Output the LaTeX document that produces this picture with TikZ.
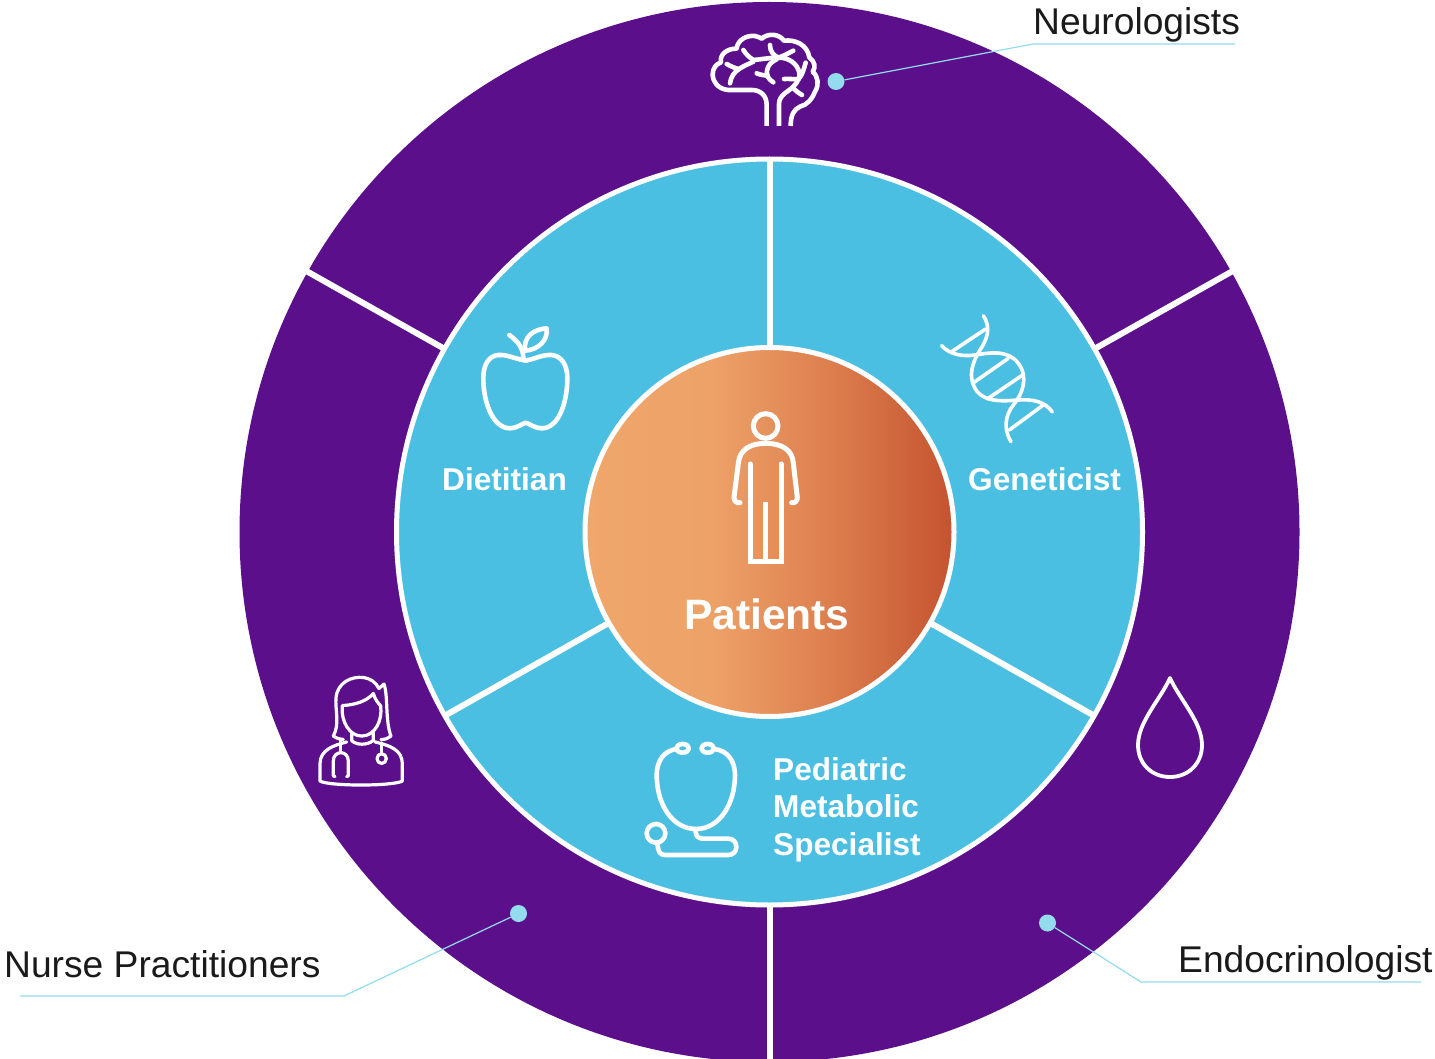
\documentclass[tikz,border=0pt]{standalone}
\usepackage{fontspec}
\usetikzlibrary{calc}
\setmainfont{Liberation Sans}
\definecolor{ringpurple}{HTML}{5B0F8B}
\definecolor{midblue}{HTML}{4BBFE2}
\definecolor{leader}{HTML}{93DCEE}
\definecolor{inktext}{HTML}{1A1A1A}
\definecolor{orA}{HTML}{F0A76B}
\definecolor{orB}{HTML}{EDA268}
\definecolor{orC}{HTML}{DD7F4F}
\definecolor{orD}{HTML}{C4532F}
\pgfdeclarehorizontalshading{patientshade}{100bp}{color(0bp)=(orA); color(25bp)=(orA); color(42bp)=(orB); color(58bp)=(orC); color(75bp)=(orD); color(100bp)=(orD)}
\tikzset{
  spoke/.style={white,line width=6pt},
  icon/.style={white,line width=4.6pt,line cap=round,line join=round},
  thinicon/.style={white,line width=3.2pt,line cap=round,line join=round},
  zoomed/.style={shift={#1},scale=0.3333},
  blacklabel/.style={anchor=base west,inner sep=0pt,text=inktext,font=\fontsize{37.2}{40}\selectfont},
  whitelabel/.style={anchor=base west,inner sep=0pt,text=white,font=\fontsize{31.6}{37}\selectfont\bfseries},
  dotnode/.style={circle,fill=leader,inner sep=0pt,minimum size=17pt},
  leaderline/.style={leader,line width=1.2pt}
}
\begin{document}
\begin{tikzpicture}[x=1pt,y=-1pt]
\useasboundingbox (0,0) rectangle (1435,1059);
\clip (0,0) rectangle (1435,1059);
\fill[white] (0,0) rectangle (1435,1059);
\coordinate (c) at (769.5,532);
% rings
\fill[ringpurple] (c) circle[radius=530];
\foreach \a in {29.4,150.6,270}{
  \draw[spoke] ($(c)+({372*cos(\a)},{-372*sin(\a)})$) -- ($(c)+({540*cos(\a)},{-540*sin(\a)})$);
}
\fill[midblue] (c) circle[radius=373];
\foreach \a in {90,209.5,330.5}{
  \draw[spoke] ($(c)+({186*cos(\a)},{-186*sin(\a)})$) -- ($(c)+({373*cos(\a)},{-373*sin(\a)})$);
}
\draw[white,line width=5pt] (c) circle[radius=373];
\shade[shading=patientshade] (c) circle[radius=184.5];
\draw[white,line width=5pt] (c) circle[radius=184.5];
% labels
\node[blacklabel] (neuro) at (1033,34.5) {Neurologists};
\node[blacklabel] (nurse) at (4,977) {Nurse Practitioners};
\node[blacklabel] (endo) at (1178,972) {Endocrinologist};
\node[whitelabel] (diet) at (442,490) {Dietitian};
\node[whitelabel] (gene) at (968,490) {Geneticist};
\node[whitelabel,font=\fontsize{42.5}{46}\selectfont\bfseries] (pat) at (684,629) {Patients};
\node[whitelabel] (ped1) at (773,780) {Pediatric};
\node[whitelabel] (ped2) at (773,817) {Metabolic};
\node[whitelabel] (ped3) at (773,855) {Specialist};
% leaders
\node[dotnode] (dn) at (836,81.5) {};
\node[dotnode] (dp) at (518.5,913.5) {};
\node[dotnode] (de) at (1047.5,923) {};
\coordinate (en) at (1033,44); \coordinate (fn) at (1235,44);
\coordinate (ep) at (344,996); \coordinate (fp) at (20,996);
\coordinate (ee) at (1141,982); \coordinate (fe) at (1421,982);
\draw[leaderline] (dn) -- (en) -- (fn);
\draw[leaderline] (dp) -- (ep) -- (fp);
\draw[leaderline] (de) -- (ee) -- (fe);
% brain
\begin{scope}[zoomed={(690,20)}]
\draw[icon,line cap=butt] (230,318) -- (230,255) .. controls (230,225) and (210,210) .. (185,210) -- (115,210)
  .. controls (85,208) and (68,185) .. (68,163) .. controls (68,145) and (78,132) .. (93,127)
  .. controls (88,105) and (110,85) .. (140,86) .. controls (142,60) and (170,45) .. (195,48) .. controls (205,50) and (210,53) .. (215,56)
  .. controls (235,38) and (268,42) .. (282,62) .. controls (318,58) and (352,75) .. (358,112)
  .. controls (375,125) and (378,142) .. (368,155) .. controls (385,170) and (388,195) .. (375,215)
  .. controls (365,240) and (350,255) .. (330,260) .. controls (312,268) and (302,285) .. (302,318);
\draw[icon,line cap=butt] (267,318) -- (267,252) .. controls (267,225) and (295,215) .. (310,200) .. controls (325,185) and (330,170) .. (328,158) .. controls (322,130) and (295,112) .. (265,113) .. controls (240,113) and (215,118) .. (190,120);
\draw[icon] (190,120) .. controls (178,112) and (168,103) .. (160,90);
\draw[icon] (110,132) .. controls (125,140) and (135,145) .. (147,147);
\draw[icon] (190,125) .. controls (160,140) and (125,150) .. (120,190);
\draw[icon] (240,75) .. controls (240,95) and (250,105) .. (265,113) .. controls (280,108) and (295,100) .. (310,92);
\draw[icon] (260,118) .. controls (235,130) and (225,150) .. (233,170) .. controls (237,178) and (243,182) .. (250,187);
\draw[icon] (200,160) .. controls (212,165) and (222,166) .. (233,167);
\draw[icon] (282,177) .. controls (298,176) and (312,178) .. (325,178) .. controls (338,165) and (342,145) .. (347,128);
\draw[icon] (312,207) .. controls (320,215) and (328,220) .. (336,225);
\end{scope}
% apple
\begin{scope}[zoomed={(470,320)}]
\draw[icon] (167,122) .. controls (130,115) and (110,103) .. (85,105) .. controls (55,108) and (40,135) .. (40,175)
  .. controls (40,250) and (70,325) .. (120,325) .. controls (140,325) and (155,312) .. (167,308)
  .. controls (180,312) and (195,325) .. (215,325) .. controls (265,325) and (292,250) .. (292,175)
  .. controls (292,135) and (275,108) .. (245,105) .. controls (220,103) and (200,115) .. (167,122);
\draw[icon] (118,45) .. controls (145,65) and (160,85) .. (160,115);
\draw[icon] (165,92) .. controls (160,50) and (190,28) .. (230,25) .. controls (235,60) and (205,90) .. (165,92);
\end{scope}
% dna
\begin{scope}[zoomed={(930,305)}]
\draw[icon,line width=3.6pt] (160,32) .. controls (185,70) and (170,105) .. (150,135) .. controls (125,175) and (115,215) .. (135,250) .. controls (160,295) and (225,288) .. (265,285) .. controls (310,282) and (345,290) .. (367,321);
\draw[icon,line width=3.6pt] (35,122) .. controls (60,150) and (100,155) .. (135,150) .. controls (185,142) and (235,135) .. (265,175) .. controls (295,215) and (280,265) .. (250,300) .. controls (225,330) and (220,375) .. (243,410);
\draw[icon,line width=3.6pt] (167,72) -- (65,140);
\draw[icon,line width=3.6pt] (235,160) -- (132,232);
\draw[icon,line width=3.6pt] (275,212) -- (172,282);
\draw[icon,line width=3.6pt] (340,300) -- (238,375);
\end{scope}
% person
\begin{scope}[zoomed={(720,400)}]
\draw[icon,line width=5pt] (137,78) circle[radius=37];
\draw[icon,line width=5pt] (60,308) .. controls (50,310) and (42,303) .. (42,292) -- (55,190) .. controls (58,150) and (90,130) .. (137,130) .. controls (185,130) and (218,150) .. (220,190) -- (232,292) .. controls (232,303) and (225,310) .. (215,308);
\draw[icon,line width=5pt,line join=miter] (90,192) -- (90,485) -- (183,485) -- (183,192);
\draw[icon,line width=5pt,line cap=butt] (137,305) -- (137,485);
\end{scope}
% nurse
\begin{scope}[zoomed={(310,665)},yscale=1.04]
\draw[thinicon] (70,205) .. controls (90,170) and (75,130) .. (78,95) .. controls (82,50) and (125,32) .. (160,36) .. controls (180,38) and (198,50) .. (207,68) .. controls (218,58) and (222,55) .. (222,55) .. controls (235,90) and (225,160) .. (243,205) .. controls (235,212) and (225,215) .. (213,215);
\draw[thinicon] (70,205) .. controls (80,212) and (90,214) .. (100,215);
\draw[thinicon] (97,117) .. controls (135,115) and (170,105) .. (190,82) .. controls (195,100) and (205,110) .. (212,118) .. controls (218,160) and (195,205) .. (155,205) .. controls (120,205) and (92,165) .. (97,117);
\draw[thinicon] (125,198) -- (125,218) .. controls (140,232) and (170,232) .. (190,218) -- (190,195);
\draw[thinicon] (110,222) .. controls (70,232) and (30,245) .. (30,285) -- (30,335) .. controls (60,350) and (245,350) .. (277,335) -- (277,285) .. controls (277,245) and (240,232) .. (195,222);
\draw[thinicon] (92,215) -- (92,252);
\draw[thinicon] (75,322) -- (70,320) -- (70,277) .. controls (70,245) and (115,245) .. (115,277) -- (115,320) -- (110,322);
\draw[thinicon] (215,225) -- (215,255);
\draw[thinicon] (215,270) circle[radius=14];
\end{scope}
% stethoscope
\begin{scope}[zoomed={(635,730)}]
\draw[icon] (125,57) .. controls (85,62) and (65,95) .. (65,135) .. controls (65,220) and (110,297) .. (183,297) .. controls (255,297) and (300,220) .. (300,135) .. controls (300,95) and (280,62) .. (238,57);
\draw[icon] (143,55) ellipse[x radius=19,y radius=13];
\draw[icon] (218,55) ellipse[x radius=19,y radius=13];
\draw[icon] (63,310) circle[radius=28];
\draw[icon] (182,297) -- (182,305) .. controls (182,318) and (190,326) .. (205,326) -- (280,326) .. controls (312,326) and (312,375) .. (280,375) -- (90,375) .. controls (75,375) and (68,365) .. (68,340);
\end{scope}
% drop
\node[inner sep=0pt,minimum size=0pt] (droptip) at (1170,678) {};
\draw[icon,line width=3.8pt] (droptip.center) .. controls (1160,700) and (1138,722) .. (1138,745) .. controls (1138,764) and (1152,777) .. (1170,777) .. controls (1188,777) and (1202,764) .. (1202,745) .. controls (1202,722) and (1180,700) .. (droptip.center) -- cycle;
\end{tikzpicture}
\end{document}
